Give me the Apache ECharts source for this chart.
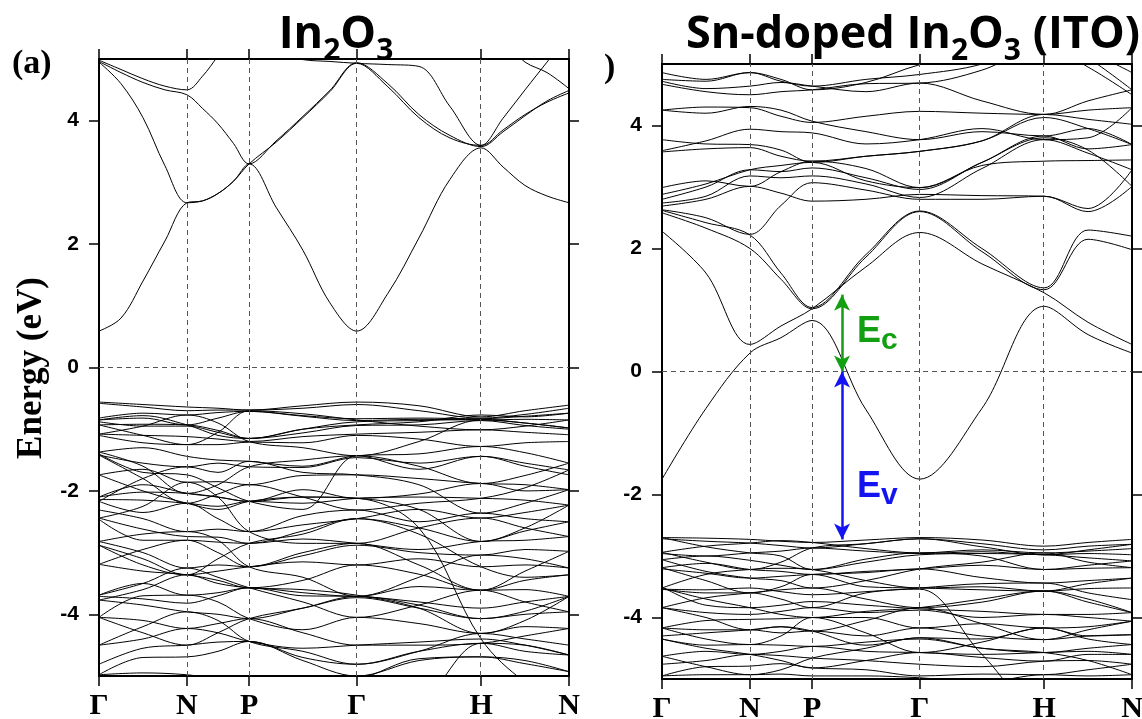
<!DOCTYPE html>
<html>
<head>
<meta charset="utf-8">
<script src="https://cdn.jsdelivr.net/npm/echarts@6/dist/echarts.min.js"></script>
<style>
  html, body { margin: 0; padding: 0; background: #fff; }
  #chart { width: 1142px; height: 719px; }
</style>
</head>
<body>
<div id="chart"></div>
<script>
// k-path of the bcc Brillouin zone
const kTicks = [0, 0.7071, 1.2071, 2.0731, 3.0731, 3.7802];
const kLabels = ['Γ', 'N', 'P', 'Γ', 'H', 'N'];
// coarse grid: high-symmetry points and segment midpoints
const kCoarse = [0, 0.3536, 0.7071, 0.9571, 1.2071, 1.6401, 2.0731, 2.5731, 3.0731, 3.4267, 3.7802];
// fine grid (quarter points), used for the In2O3 conduction bands
const kFine = [0, 0.1768, 0.3536, 0.5303, 0.7071, 0.8321, 0.9571, 1.0821, 1.2071, 1.4236, 1.6401,
  1.8566, 2.0731, 2.3231, 2.5731, 2.8231, 3.0731, 3.2499, 3.4267, 3.6034, 3.7802];
const energyTicks = [-4, -2, 0, 2, 4];

// In2O3 conduction bands (eV, on kFine)
const in2o3CB = [
  [0.59, 0.80, 1.40, 2.05, 2.67, 2.70, 2.82, 3.02, 3.30, 2.60, 1.90, 1.05, 0.59, 1.20, 2.10, 3.05, 3.56, 3.25, 2.95, 2.78, 2.67],
  [4.95, 4.60, 4.05, 3.27, 2.67, 2.70, 2.82, 3.02, 3.30, 3.65, 4.05, 4.47, 4.93, 4.55, 4.05, 3.72, 3.60, 3.85, 4.10, 4.30, 4.45],
  [4.96, 4.78, 4.62, 4.50, 4.42, 4.20, 3.95, 3.63, 3.30, 3.67, 4.07, 4.49, 4.94, 4.60, 4.10, 3.76, 3.58, 3.82, 4.08, 4.32, 4.49],
  [4.98, 4.83, 4.68, 4.56, 4.50, 4.72, 5.05, 5.40, 5.60, 5.10, 4.99, 4.96, 4.93, 4.91, 4.88, 4.23, 3.60, 4.04, 4.50, 4.95, 5.40],
  [null, null, null, null, null, null, null, null, null, null, null, null, null, null, null, null, 5.60, 5.30, 4.95, 4.78, 4.52]
];

// In2O3 valence bands (eV, on kCoarse)
const in2o3VB = [
  [-0.56, -0.60, -0.64, -0.66, -0.69, -0.62, -0.56, -0.62, -0.80, -0.70, -0.61],
  [-0.58, -0.64, -0.70, -0.69, -0.69, -0.66, -0.60, -0.70, -0.82, -0.76, -0.66],
  [-0.82, -0.74, -0.77, -0.73, -0.71, -0.78, -0.83, -0.82, -0.83, -0.79, -0.74],
  [-0.85, -0.82, -0.93, -0.82, -0.71, -0.79, -0.86, -0.84, -0.85, -0.84, -0.85],
  [-0.88, -0.95, -0.95, -1.05, -1.15, -1.00, -0.88, -0.86, -0.84, -0.90, -0.98],
  [-0.93, -0.92, -0.93, -1.02, -1.15, -1.06, -0.94, -0.93, -0.86, -0.94, -1.00],
  [-1.08, -1.10, -1.12, -1.16, -1.20, -1.12, -1.08, -1.05, -1.01, -1.05, -1.09],
  [-1.10, -1.22, -1.25, -1.25, -1.21, -1.22, -1.10, -1.16, -1.28, -1.22, -1.20],
  [-1.37, -1.30, -1.44, -1.50, -1.52, -1.60, -1.43, -1.40, -1.28, -1.38, -1.55],
  [-1.42, -1.55, -1.61, -1.55, -1.61, -1.62, -1.46, -1.55, -1.44, -1.55, -1.66],
  [-1.40, -1.70, -1.74, -1.95, -2.17, -2.30, -1.43, -1.65, -1.44, -1.60, -1.74],
  [-1.74, -1.65, -1.86, -1.85, -1.90, -1.75, -1.74, -1.80, -1.88, -1.90, -1.98],
  [-2.10, -1.90, -2.04, -2.10, -2.17, -1.98, -2.12, -2.05, -1.88, -2.00, -1.98],
  [-2.14, -2.15, -2.20, -2.25, -2.17, -2.20, -2.12, -2.10, -2.12, -2.15, -2.23],
  [-2.17, -2.35, -2.20, -2.45, -2.66, -2.40, -2.31, -2.50, -2.36, -2.45, -2.50],
  [-2.31, -2.45, -2.66, -2.62, -2.66, -2.55, -2.45, -2.30, -2.44, -2.35, -2.23],
  [-2.44, -2.62, -2.74, -2.75, -2.85, -2.65, -2.45, -2.60, -2.82, -2.65, -2.50],
  [-2.46, -2.80, -2.80, -2.83, -2.85, -2.78, -2.85, -2.95, -2.82, -2.80, -2.74],
  [-2.82, -3.00, -3.25, -3.20, -3.23, -3.05, -2.88, -3.00, -3.04, -2.95, -2.98],
  [-2.88, -3.10, -3.36, -3.30, -3.23, -3.15, -3.20, -3.10, -3.23, -3.20, -3.25],
  [-3.19, -3.30, -3.36, -3.45, -3.57, -3.45, -3.20, -3.35, -3.61, -3.45, -3.36],
  [-3.69, -3.50, -3.69, -3.65, -3.57, -3.65, -3.71, -3.55, -3.61, -3.60, -3.71],
  [-3.71, -3.75, -3.82, -3.70, -3.57, -3.70, -3.71, -3.80, -3.90, -3.80, -3.71],
  [-3.77, -3.85, -3.96, -4.00, -4.07, -3.90, -3.73, -3.90, -4.07, -4.00, -3.96],
  [-4.05, -3.70, -3.69, -3.80, -4.07, -4.25, -4.05, -4.15, -4.31, -4.20, -4.23],
  [-4.05, -4.10, -4.23, -4.15, -4.07, -4.30, -4.50, -4.50, -4.47, -4.35, -4.23],
  [-4.50, -4.40, -4.23, -4.30, -4.44, -4.55, -4.50, -4.45, -4.40, -4.50, -4.66],
  [-4.81, -4.55, -4.50, -4.45, -4.44, -4.70, -4.81, -4.60, -4.47, -4.60, -4.66],
  [-4.98, -4.70, -4.69, -4.60, -4.44, -4.75, -5.00, -4.75, -4.69, -4.80, -4.93],
  [-4.98, -4.95, -4.98, -5.05, -5.10, -5.10, -5.05, -4.72, -4.69, -4.75, -4.93],
  [-2.10, -2.02, -2.04, -2.10, -2.17, -2.10, -2.12, -2.60, -4.40, -5.10, -5.50],
  [-5.50, -5.50, -5.50, -5.50, -5.50, -5.50, -5.50, -5.40, -4.47, -4.50, -4.66],
  [-0.93, -1.10, -1.25, -1.05, -0.70, -0.75, -0.85, -0.95, -1.01, -0.95, -0.85],
  [-1.08, -0.95, -0.77, -0.90, -1.20, -1.30, -1.43, -1.20, -0.85, -0.90, -0.98],
  [-1.37, -1.60, -2.04, -1.90, -1.61, -1.50, -1.43, -1.60, -1.88, -1.75, -1.55],
  [-1.42, -1.80, -2.20, -2.05, -1.90, -2.10, -2.31, -2.20, -2.12, -1.95, -1.66],
  [-2.17, -1.80, -1.61, -1.70, -1.52, -1.70, -1.74, -1.90, -2.36, -2.20, -1.98],
  [-2.44, -2.25, -1.86, -2.10, -2.66, -2.85, -2.85, -2.60, -2.44, -2.60, -2.74],
  [-2.82, -2.70, -2.66, -2.80, -3.23, -3.40, -3.71, -3.40, -3.04, -3.10, -3.25],
  [-3.19, -2.95, -2.80, -3.00, -3.23, -3.00, -2.85, -3.20, -3.61, -3.30, -2.98],
  [-3.69, -3.50, -3.25, -3.40, -3.57, -3.80, -4.05, -3.85, -3.61, -3.80, -3.96],
  [-4.05, -4.30, -4.50, -4.30, -4.07, -3.90, -3.71, -3.85, -4.07, -3.95, -3.71],
  [-4.50, -4.20, -3.96, -4.10, -4.44, -4.60, -4.81, -4.60, -4.31, -4.40, -4.50],
  [-0.85, -0.78, -0.93, -1.10, -1.15, -1.00, -0.93, -0.88, -0.77, -0.80, -0.74],
  [-1.74, -2.00, -2.20, -2.30, -2.17, -2.10, -2.12, -2.30, -2.82, -2.60, -2.23],
  [-2.88, -3.20, -3.36, -3.10, -2.85, -2.70, -2.45, -2.70, -3.23, -3.40, -3.36],
  [-3.77, -3.60, -3.36, -3.50, -3.57, -3.60, -3.69, -3.90, -4.31, -4.10, -3.71]
];

// ITO conduction bands (eV, on kCoarse)
const itoCB = [
  [-1.75, -0.60, 0.30, 0.55, 0.83, -0.62, -1.75, -0.60, 1.06, 0.60, 0.30],
  [2.28, 1.60, 0.44, 0.74, 1.02, 1.70, 2.26, 1.75, 1.28, 0.80, 0.44],
  [2.62, 2.42, 2.22, 1.60, 1.04, 1.90, 2.61, 2.00, 1.36, 2.30, 2.20],
  [2.58, 2.33, 2.00, 1.50, 1.02, 1.86, 2.60, 1.95, 1.33, 2.15, 1.98],
  [2.63, 2.50, 2.23, 2.70, 3.07, 2.95, 2.80, 2.80, 2.85, 2.60, 3.01],
  [2.69, 2.80, 3.01, 2.90, 2.77, 2.80, 2.88, 2.86, 2.85, 2.65, 3.28],
  [2.74, 2.85, 3.18, 3.15, 3.18, 3.05, 2.83, 3.30, 3.77, 3.55, 3.28],
  [2.80, 3.00, 3.28, 3.25, 3.31, 3.15, 2.96, 3.40, 3.80, 3.60, 3.01],
  [2.88, 3.05, 3.28, 3.35, 3.40, 3.10, 2.99, 3.40, 3.83, 3.62, 3.69],
  [2.99, 3.10, 3.01, 3.25, 3.42, 3.30, 2.99, 3.35, 3.42, 3.43, 3.44],
  [3.57, 3.62, 3.64, 3.50, 3.42, 3.50, 3.58, 3.75, 4.13, 3.95, 3.69],
  [3.77, 3.70, 3.69, 3.60, 3.40, 3.50, 3.58, 3.75, 4.18, 4.10, 4.02],
  [3.59, 3.75, 3.94, 3.90, 3.88, 3.70, 3.77, 3.95, 3.77, 3.80, 4.29],
  [4.25, 4.30, 4.29, 4.15, 4.05, 4.15, 4.23, 4.20, 4.18, 4.25, 4.29],
  [4.25, 4.20, 4.31, 4.25, 4.07, 3.90, 3.77, 3.90, 3.83, 3.95, 3.69],
  [4.67, 4.55, 4.50, 4.55, 4.58, 4.68, 4.69, 4.90, 5.30, 4.95, 4.50],
  [4.72, 4.60, 4.64, 4.70, 4.64, 4.55, 4.69, 4.40, 4.18, 4.40, 4.58],
  [4.86, 4.75, 4.86, 4.72, 4.64, 4.75, 4.83, 5.00, 5.40, 5.20, 4.86],
  [4.75, 4.72, 4.86, 4.75, 4.58, 4.70, 4.99, 5.20, 5.50, 5.10, 4.58]
];

// ITO valence bands (eV, on kCoarse)
const itoVB = [
  [-2.70, -2.71, -2.73, -2.76, -2.78, -2.74, -2.70, -2.74, -2.84, -2.78, -2.73],
  [-2.72, -2.76, -2.79, -2.83, -2.87, -2.80, -2.72, -2.80, -2.90, -2.84, -2.81],
  [-2.94, -2.84, -2.79, -2.75, -2.78, -2.88, -2.95, -2.90, -2.95, -2.92, -2.88],
  [-2.96, -3.00, -2.95, -2.92, -2.87, -2.92, -2.96, -2.93, -2.98, -2.96, -2.98],
  [-3.06, -3.00, -3.07, -3.15, -3.22, -3.10, -2.98, -2.96, -2.98, -3.03, -3.08],
  [-3.19, -3.12, -3.22, -3.25, -3.30, -3.25, -3.21, -3.15, -3.22, -3.20, -3.19],
  [-3.21, -3.28, -3.36, -3.33, -3.30, -3.27, -3.21, -3.35, -3.44, -3.40, -3.36],
  [-3.52, -3.30, -3.22, -3.20, -3.22, -3.40, -3.52, -3.50, -3.57, -3.53, -3.52],
  [-3.54, -3.55, -3.52, -3.58, -3.63, -3.58, -3.52, -3.45, -3.44, -3.60, -3.71],
  [-3.84, -3.68, -3.60, -3.55, -3.52, -3.70, -3.84, -3.75, -3.57, -3.70, -3.92],
  [-3.50, -3.80, -3.84, -3.80, -3.74, -3.80, -3.86, -3.90, -3.95, -3.95, -3.92],
  [-3.84, -3.92, -3.95, -3.90, -3.84, -3.92, -3.88, -4.00, -3.95, -4.00, -4.06],
  [-4.17, -4.05, -4.03, -4.02, -4.00, -4.00, -4.17, -4.10, -4.17, -4.15, -4.06],
  [-4.17, -4.20, -4.20, -4.25, -4.22, -4.30, -4.17, -4.30, -4.36, -4.30, -4.28],
  [-4.30, -4.25, -4.20, -4.15, -4.22, -4.45, -4.33, -4.35, -4.17, -4.35, -4.44],
  [-4.35, -4.45, -4.44, -4.45, -4.47, -4.40, -4.35, -4.50, -4.57, -4.50, -4.44],
  [-4.63, -4.55, -4.60, -4.55, -4.47, -4.55, -4.57, -4.60, -4.57, -4.55, -4.60],
  [-4.76, -4.70, -4.60, -4.62, -4.66, -4.70, -4.76, -4.80, -4.71, -4.70, -4.76],
  [-4.95, -4.80, -4.79, -4.75, -4.82, -4.85, -4.95, -4.92, -4.93, -4.85, -4.76],
  [-4.95, -4.93, -4.93, -4.92, -4.95, -4.95, -4.98, -5.05, -4.93, -4.95, -4.93],
  [-3.54, -3.60, -3.60, -3.70, -3.84, -3.60, -3.54, -4.60, -5.50, -5.50, -5.50],
  [-2.94, -3.10, -3.22, -3.10, -2.87, -2.80, -2.72, -2.85, -2.98, -2.90, -2.81],
  [-3.06, -3.25, -3.36, -3.40, -3.52, -3.40, -3.21, -3.10, -2.95, -3.10, -3.19],
  [-3.19, -3.40, -3.60, -3.50, -3.30, -3.50, -3.52, -3.55, -3.57, -3.45, -3.36],
  [-3.52, -3.70, -3.84, -3.95, -4.00, -3.90, -3.84, -3.70, -3.57, -3.75, -3.92],
  [-3.84, -4.00, -4.20, -4.15, -4.22, -4.05, -3.84, -4.10, -4.36, -4.20, -4.06],
  [-4.17, -4.35, -4.44, -4.30, -4.00, -4.25, -4.57, -4.40, -4.17, -4.30, -4.28],
  [-4.35, -4.50, -4.60, -4.70, -4.82, -4.70, -4.57, -4.65, -4.71, -4.60, -4.60],
  [-4.63, -4.80, -4.93, -4.85, -4.66, -4.50, -4.33, -4.50, -4.57, -4.70, -4.93],
  [-2.70, -2.85, -2.95, -3.00, -3.22, -3.05, -2.95, -3.00, -3.22, -3.15, -3.08]
];

// double arrows in the ITO panel: [k, E start, E end]
const arrowEc = [1.448, 1.25, 0];
const arrowEv = [1.448, 0, -2.73];

const nearest = v => kTicks.reduce((b, t, i) => Math.abs(t - v) < Math.abs(kTicks[b] - v) ? i : b, 0);

function bands(list, ks, g) {
  return list.map(b => ({
    type: 'line', xAxisIndex: g, yAxisIndex: g,
    data: b.map((e, i) => [ks[i], e]),
    smooth: 0.35, symbol: 'none', silent: true, clip: true,
    lineStyle: { color: '#000', width: 1 }
  }));
}

function guides(g) {
  return {
    type: 'line', xAxisIndex: g, yAxisIndex: g, data: [], symbol: 'none',
    markLine: {
      silent: true, symbol: ['none', 'none'], label: { show: false },
      lineStyle: { color: '#555', type: [5, 4], width: 1 },
      data: kTicks.slice(1, -1).map(v => ({ xAxis: v })).concat([{ yAxis: 0 }])
    }
  };
}

function arrow(a, color) {
  return {
    type: 'line', xAxisIndex: 1, yAxisIndex: 1, data: [], symbol: 'none',
    markLine: {
      silent: true, symbol: ['arrow', 'arrow'], symbolSize: [12, 16], label: { show: false },
      lineStyle: { color: color, type: 'solid', width: 2.5 },
      data: [[{ coord: [a[0], a[1]] }, { coord: [a[0], a[2]] }]]
    }
  };
}

function xAxis(g, pos) {
  return {
    type: 'value', gridIndex: g, position: pos, min: 0, max: kTicks[kTicks.length - 1],
    axisLine: { onZero: false, lineStyle: { color: '#000', width: 2 } },
    axisTick: { customValues: kTicks, inside: false, length: 10, lineStyle: { color: '#000', width: 1.5 } },
    axisLabel: {
      show: pos === 'bottom', customValues: kTicks, margin: 15, color: '#000',
      fontFamily: 'Liberation Serif', fontWeight: 'bold', fontSize: 30,
      formatter: v => kLabels[nearest(v)]
    },
    splitLine: { show: false }
  };
}

function yAxis(g, pos) {
  return {
    type: 'value', gridIndex: g, position: pos, min: -5, max: 5,
    axisLine: { onZero: false, lineStyle: { color: '#000', width: 2 } },
    axisTick: { customValues: energyTicks, inside: false, length: 10, lineStyle: { color: '#000', width: 1.5 } },
    axisLabel: {
      show: pos === 'left', customValues: energyTicks, margin: 20, color: '#000',
      fontFamily: 'Liberation Sans', fontWeight: 'bold', fontSize: 21
    },
    splitLine: { show: false }
  };
}

const titleRich = {
  m: { fontFamily: 'Open Sans', fontWeight: 'bold', fontSize: 45, color: '#000' },
  s: { fontFamily: 'Open Sans', fontWeight: 'bold', fontSize: 30, color: '#000', padding: [32, 0, 0, 0] }
};

const chart = echarts.init(document.getElementById('chart'));
chart.setOption({
  animation: false,
  backgroundColor: '#fff',
  grid: [
    { left: 99, top: 59, width: 470, height: 617, outerBoundsMode: 'none' },
    { left: 662, top: 64, width: 470, height: 615, outerBoundsMode: 'none' }
  ],
  xAxis: [xAxis(0, 'bottom'), xAxis(1, 'bottom'), xAxis(0, 'top'), xAxis(1, 'top')],
  yAxis: [yAxis(0, 'left'), yAxis(1, 'left'), yAxis(0, 'right'), yAxis(1, 'right')],
  graphic: [
    { type: 'text', x: 336, y: 35, style: { text: '{m|In}{s|2}{m|O}{s|3}', rich: titleRich, align: 'center', verticalAlign: 'middle' } },
    { type: 'text', x: 686, y: 35, style: { text: '{m|Sn-doped In}{s|2}{m|O}{s|3}{m| (ITO)}', rich: titleRich, align: 'left', verticalAlign: 'middle' } },
    { type: 'text', x: 12, y: 64, style: { text: '(a)', font: 'bold 34px "Liberation Serif"', fill: '#000', align: 'left', verticalAlign: 'middle' } },
    { type: 'text', x: 604, y: 68, style: { text: ')', font: 'bold 34px "Liberation Serif"', fill: '#000', align: 'left', verticalAlign: 'middle' } },
    { type: 'text', x: 32, y: 368, rotation: Math.PI / 2, style: { text: 'Energy (eV)', font: 'bold 35px "Liberation Serif"', fill: '#000', align: 'center', verticalAlign: 'middle' } },
    { type: 'text', x: 857, y: 332, style: { text: 'E', font: 'bold 36px "Liberation Sans"', fill: '#12a012', align: 'left', verticalAlign: 'middle' } },
    { type: 'text', x: 881, y: 341, style: { text: 'c', font: 'bold 30px "Liberation Sans"', fill: '#12a012', align: 'left', verticalAlign: 'middle' } },
    { type: 'text', x: 857, y: 487, style: { text: 'E', font: 'bold 36px "Liberation Sans"', fill: '#1414f0', align: 'left', verticalAlign: 'middle' } },
    { type: 'text', x: 881, y: 496, style: { text: 'v', font: 'bold 30px "Liberation Sans"', fill: '#1414f0', align: 'left', verticalAlign: 'middle' } }
  ],
  series: [
    guides(0), guides(1),
    ...bands(in2o3CB, kFine, 0),
    ...bands(in2o3VB, kCoarse, 0),
    ...bands(itoCB, kCoarse, 1),
    ...bands(itoVB, kCoarse, 1),
    arrow(arrowEc, '#12a012'),
    arrow(arrowEv, '#1414f0')
  ]
});
</script>
</body>
</html>
